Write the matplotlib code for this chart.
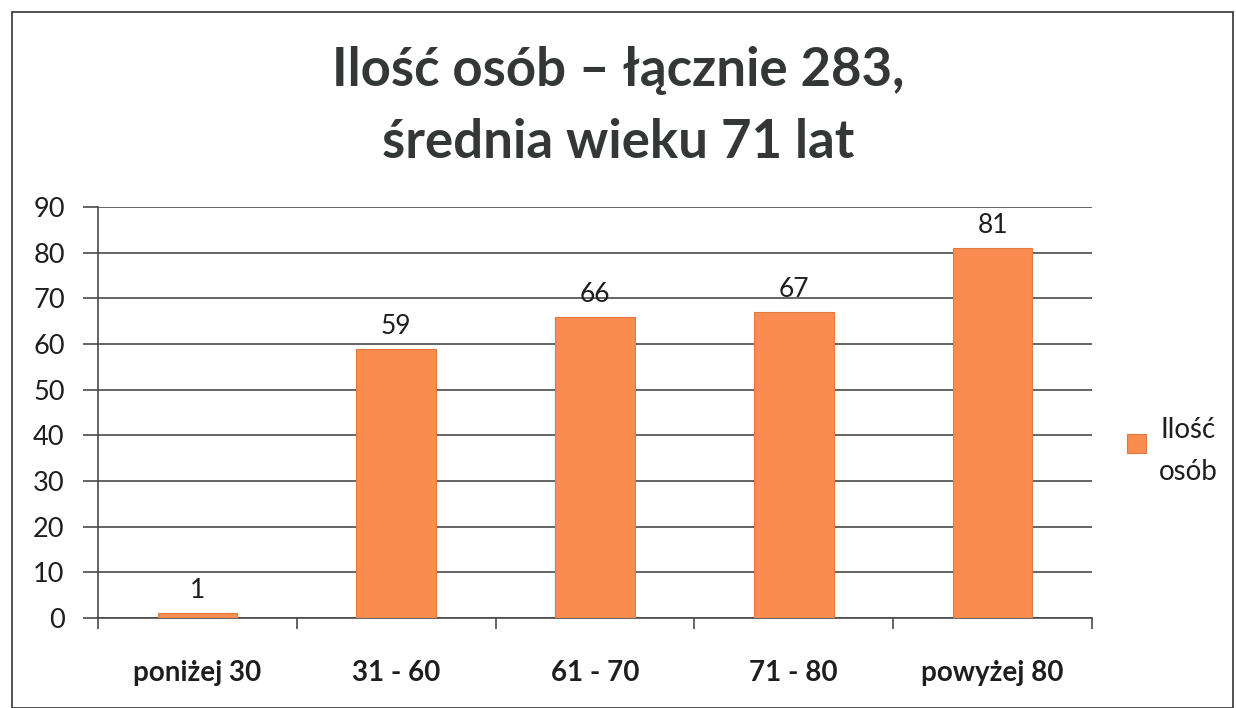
import matplotlib.pyplot as plt
import matplotlib.patches as patches
import numpy as np

plt.rcParams.update({
    'font.family': ['Lato', 'DejaVu Sans'],
})

# data
categories = ["poniżej 30", "31 - 60", "61 - 70", "71 - 80", "powyżej 80"]
counts = [1, 59, 66, 67, 81]
series_name = "Ilość\nosób"
title_lines = ["Ilość osób – łącznie 283,", "średnia wieku 71 lat"]

BAR = "#F98C4E"
EDGE = "#E07A3E"
GRID = "#4A4A4A"
TXT = "#1E1E1E"

W, H = 1236, 708
fig = plt.figure(figsize=(W / 100, H / 100), dpi=100)
ax = fig.add_axes([98 / W, 90 / H, (1092 - 98) / W, (618 - 207) / H])

# outer chart frame
fig.patches.append(patches.Rectangle((12 / W, 0.0), (1233 - 12) / W, (H - 12) / H,
                                     transform=fig.transFigure, fill=False,
                                     edgecolor="#333333", linewidth=1.2))

x = np.arange(len(categories))
bars = ax.bar(x, counts, width=0.4, color=BAR, edgecolor=EDGE, linewidth=0.8, zorder=3)

for xi, v in zip(x, counts):
    ax.text(xi, v + 2.2, str(v), ha='center', va='bottom', fontsize=19, color=TXT)

ax.set_xlim(-0.5, len(categories) - 0.5)
ax.set_ylim(0, 90)
ax.set_yticks(np.arange(0, 91, 10))
ax.yaxis.grid(True, color=GRID, linewidth=1.2, zorder=0)
ax.tick_params(axis='y', length=11, width=1.2, color=GRID, labelsize=19.5, pad=13,
               labelcolor=TXT)

# category ticks at boundaries, labels at centres
ax.set_xticks(np.arange(-0.5, len(categories), 1.0))
ax.set_xticklabels([])
ax.set_xticks(x, minor=True)
ax.set_xticklabels(categories, minor=True, fontsize=20, fontweight='bold', color=TXT)
ax.tick_params(axis='x', which='major', length=8, width=1.2, color=GRID)
ax.tick_params(axis='x', which='minor', length=0, pad=30)

for s in ['top', 'right']:
    ax.spines[s].set_visible(False)
for s in ['left', 'bottom']:
    ax.spines[s].set_color(GRID)
    ax.spines[s].set_linewidth(1.2)

# title, two lines at their own baselines
for line, base in zip(title_lines, [86, 158]):
    fig.text(0.5, 1 - base / H, line, ha='center', va='baseline', fontsize=38,
             fontweight='bold', color="#333836")

leg = ax.legend([bars[0]], [series_name], loc='upper left', bbox_to_anchor=(1.024, 0.515),
                frameon=False, fontsize=20, handlelength=0.7, handleheight=0.7,
                handletextpad=0.45, borderaxespad=0)
for t in leg.get_texts():
    t.set_multialignment('center')
    t.set_linespacing(1.75)
    t.set_color(TXT)
for hp in leg._legend_handle_box.get_children():
    hp.align = "top"
# lift the legend square next to the first line of its label
for h in leg.legend_handles:
    h.set_y(h.get_y() + 6)

fig.savefig("out.png", dpi=100)
